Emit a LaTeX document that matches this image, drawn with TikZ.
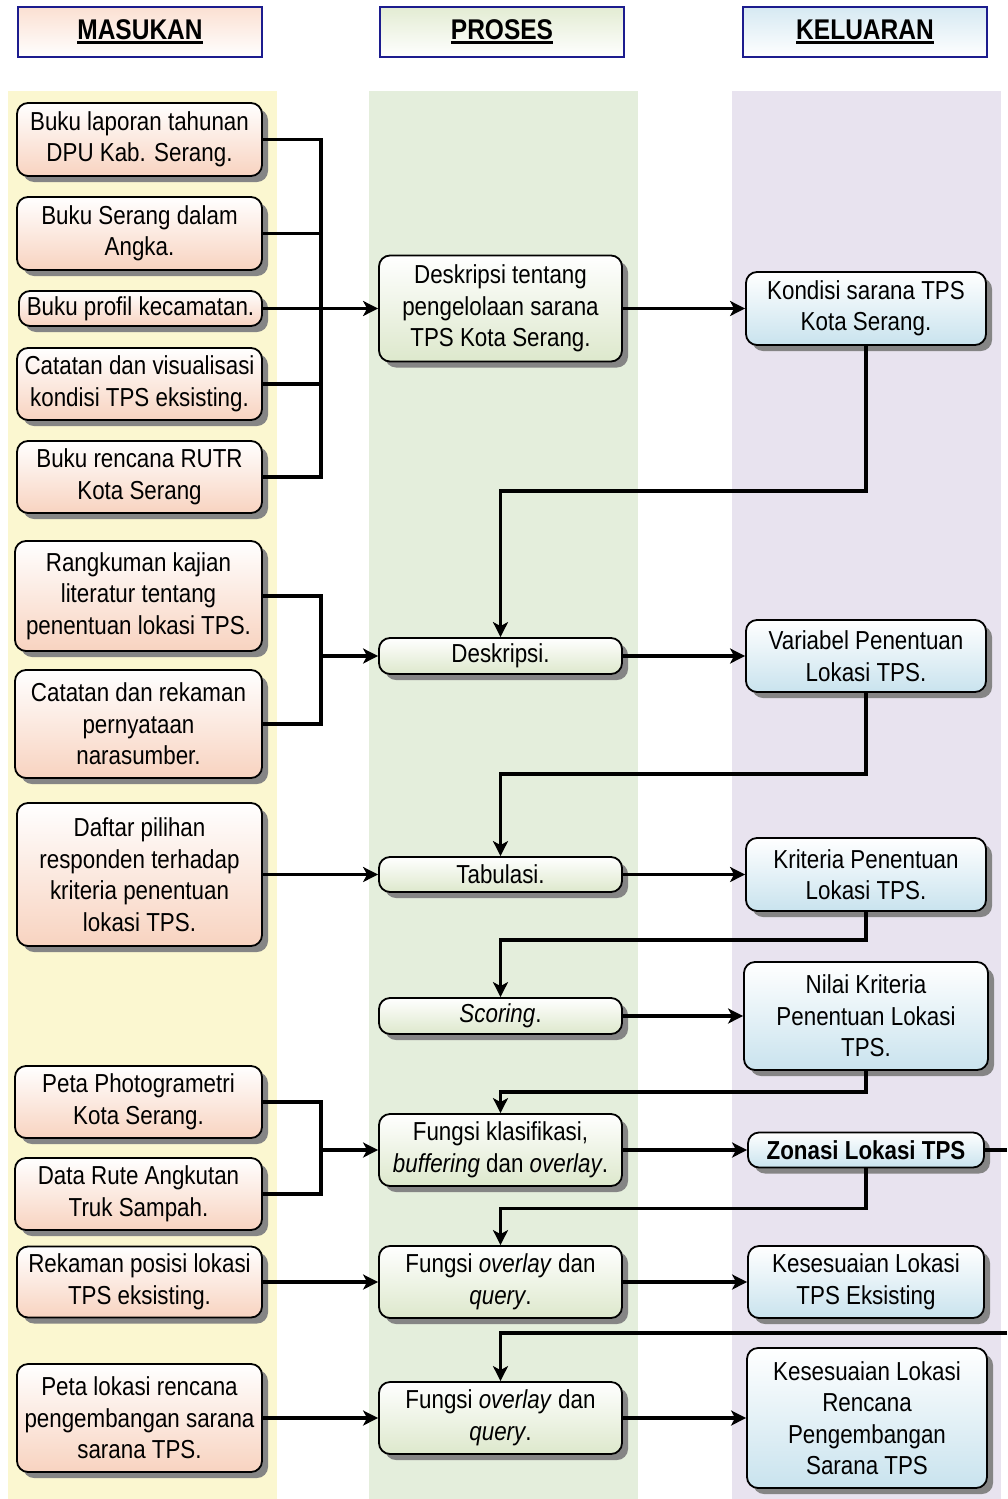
\documentclass[tikz,border=0pt]{standalone}
\usepackage{fontspec}
\setmainfont{Liberation Sans}[FakeStretch=0.86]
\usetikzlibrary{arrows.meta,shadows,calc}

\definecolor{bandIn}{HTML}{FBF7D0}
\definecolor{bandPr}{HTML}{E4EEDC}
\definecolor{bandOut}{HTML}{E8E3EF}
\definecolor{fillIn}{HTML}{F8D3C0}
\definecolor{fillPr}{HTML}{DDE8CC}
\definecolor{fillOut}{HTML}{C9E3EE}
\definecolor{hdrIn}{HTML}{FBE0D2}
\definecolor{hdrPr}{HTML}{E3ECD3}
\definecolor{hdrOut}{HTML}{D6E9F2}
\definecolor{navy}{HTML}{1C1C8E}
\definecolor{shadowgray}{HTML}{858585}

% heading text with a heavy underline
\newcommand\hdrline[1]{\setbox0=\hbox{#1}\leavevmode\rlap{\raisebox{-5pt}{\rule{\wd0}{3pt}}}\box0}

\tikzset{
  box/.style={draw=black, line width=1.8pt, rounded corners=11pt, align=center,
    inner sep=0pt, font=\fontsize{26}{31.5}\selectfont,
    drop shadow={shadow xshift=6pt, shadow yshift=-6pt, fill=shadowgray, opacity=1}},
  inbox/.style={box, top color=white, bottom color=fillIn, minimum width=245pt},
  prbox/.style={box, top color=white, bottom color=fillPr, minimum width=243pt},
  outbox/.style={box, top color=white, bottom color=fillOut, minimum width=240pt},
  hdr/.style={draw=navy, line width=1.6pt, minimum width=244pt, minimum height=50pt,
    inner sep=0pt, font=\fontsize{28.5}{32}\selectfont\bfseries},
  conn/.style={line width=3.2pt},
  arr/.style={conn, -{Stealth[length=15pt,width=15pt,inset=4pt]}},
}

\begin{document}
\begin{tikzpicture}[x=1pt,y=-1pt]
\useasboundingbox (0,0) rectangle (1007,1499);

% column bands
\fill[bandIn]  (8,91)   rectangle (277,1499);
\fill[bandPr]  (369,91) rectangle (638,1499);
\fill[bandOut] (732,91) rectangle (1001,1499);

% headings
\node[hdr, top color=hdrIn, bottom color=white]  (hIn)  at (140,32)   {\hdrline{MASUKAN}};
\node[hdr, top color=hdrPr, bottom color=white]  (hPr)  at (502,32)   {\hdrline{PROSES}};
\node[hdr, top color=hdrOut, bottom color=white] (hOut) at (865,32)   {\hdrline{KELUARAN}};

% inputs
\node[inbox, minimum height=73pt] (b1) at (139.5,139.5) {Buku laporan tahunan\\DPU Kab. Serang.};
\node[inbox, minimum height=73pt] (b2) at (139.5,233.5) {Buku Serang dalam\\Angka.};
\node[inbox, minimum width=243pt, minimum height=35pt] (b3) at (140.5,308.5) {Buku profil kecamatan.};
\node[inbox, minimum height=72pt] (b4) at (139.5,384) {Catatan dan visualisasi\\kondisi TPS eksisting.};
\node[inbox, minimum height=72pt] (b5) at (139.5,477) {Buku rencana RUTR\\Kota Serang};
\node[inbox, minimum width=247pt, minimum height=110pt] (b6) at (138.5,596) {Rangkuman kajian\\literatur tentang\\penentuan lokasi TPS.};
\node[inbox, minimum width=247pt, minimum height=108pt] (b7) at (138.5,724) {Catatan dan rekaman\\pernyataan\\narasumber.};
\node[inbox, minimum height=143pt] (b8) at (139.5,874.5) {Daftar pilihan\\responden terhadap\\kriteria penentuan\\lokasi TPS.};
\node[inbox, minimum width=247pt, minimum height=72pt] (b9) at (138.5,1102) {Peta Photogrametri\\Kota Serang.};
\node[inbox, minimum width=247pt, minimum height=72pt] (b10) at (138.5,1194) {Data Rute Angkutan\\Truk Sampah.};
\node[inbox, minimum height=71pt] (b11) at (139.5,1282) {Rekaman posisi lokasi\\TPS eksisting.};
\node[inbox, minimum height=108pt] (b12) at (139.5,1418) {Peta lokasi rencana\\pengembangan sarana\\sarana TPS.};

% processes
\node[prbox, minimum height=106pt] (pA) at (500.5,308.5) {Deskripsi tentang\\pengelolaan sarana\\TPS Kota Serang.};
\node[prbox, minimum height=36pt] (pB) at (500.5,656) {Deskripsi.};
\node[prbox, minimum height=35pt] (pC) at (500.5,874.5) {Tabulasi.};
\node[prbox, minimum height=36pt] (pD) at (500.5,1016) {\textit{Scoring}.};
\node[prbox, minimum height=72pt] (pE) at (500.5,1150) {Fungsi klasifikasi,\\\textit{buffering} dan \textit{overlay}.};
\node[prbox, minimum height=72pt] (pF) at (500.5,1282) {Fungsi \textit{overlay} dan\\\textit{query}.};
\node[prbox, minimum height=72pt] (pG) at (500.5,1418) {Fungsi \textit{overlay} dan\\\textit{query}.};

% outputs
\node[outbox, minimum height=73pt] (r1) at (866,308.5) {Kondisi sarana TPS\\Kota Serang.};
\node[outbox, minimum height=72pt] (r2) at (866,656) {Variabel Penentuan\\Lokasi TPS.};
\node[outbox, minimum height=73pt] (r3) at (866,874.5) {Kriteria Penentuan\\Lokasi TPS.};
\node[outbox, minimum width=244pt, minimum height=108pt] (r4) at (866,1016) {Nilai Kriteria\\Penentuan Lokasi\\TPS.};
\node[outbox, minimum width=236pt, minimum height=35pt, font=\fontsize{26}{31.5}\selectfont\bfseries] (r5) at (866,1150) {Zonasi Lokasi TPS};
\node[outbox, minimum width=236pt, minimum height=72pt] (r6) at (866,1282) {Kesesuaian Lokasi\\TPS Eksisting};
\node[outbox, minimum height=140pt] (r7) at (867,1418) {Kesesuaian Lokasi\\Rencana\\Pengembangan\\Sarana TPS};

% collector line for the input groups
\coordinate (bus) at (320,0);
\coordinate (outR) at (1007,1150);
\coordinate (inR) at (1007,1333);

% inputs to processes
\draw[conn] (b1.east) -- ++(58,0) |- (b5.east);
\draw[conn] (b2.east) -- (b2.east -| bus);
\draw[conn] (b4.east) -- (b4.east -| bus);
\draw[arr] (b3.east) -- (pA.west);

\draw[conn] (b6.east) -- ++(58,0) |- (b7.east);
\draw[arr] (pB.west -| bus) -- (pB.west);

\draw[arr] (b8.east) -- (pC.west);

\draw[conn] (b9.east) -- ++(58,0) |- (b10.east);
\draw[arr] (pE.west -| bus) -- (pE.west);

\draw[arr] (b11.east) -- (pF.west);
\draw[arr] (b12.east) -- (pG.west);

% processes to outputs
\draw[arr] (pA.east) -- (r1.west);
\draw[arr] (pB.east) -- (r2.west);
\draw[arr] (pC.east) -- (r3.west);
\draw[arr] (pD.east) -- (r4.west);
\draw[arr] (pE.east) -- (r5.west);
\draw[arr] (pF.east) -- (r6.west);
\draw[arr] (pG.east) -- (r7.west);

% outputs fed back into the next process
\draw[arr] (r1.south) -- ++(0,145) -| (pB.north);
\draw[arr] (r2.south) -- ++(0,81) -| (pC.north);
\draw[arr] (r3.south) -- ++(0,28) -| (pD.north);
\draw[arr] (r4.south) -- ++(0,21) -| (pE.north);
\draw[arr] (r5.south) -- ++(0,40) -| (pF.north);
\draw[conn] (r5.east) -- (outR);
\draw[arr] (inR) -| (pG.north);
\end{tikzpicture}
\end{document}
